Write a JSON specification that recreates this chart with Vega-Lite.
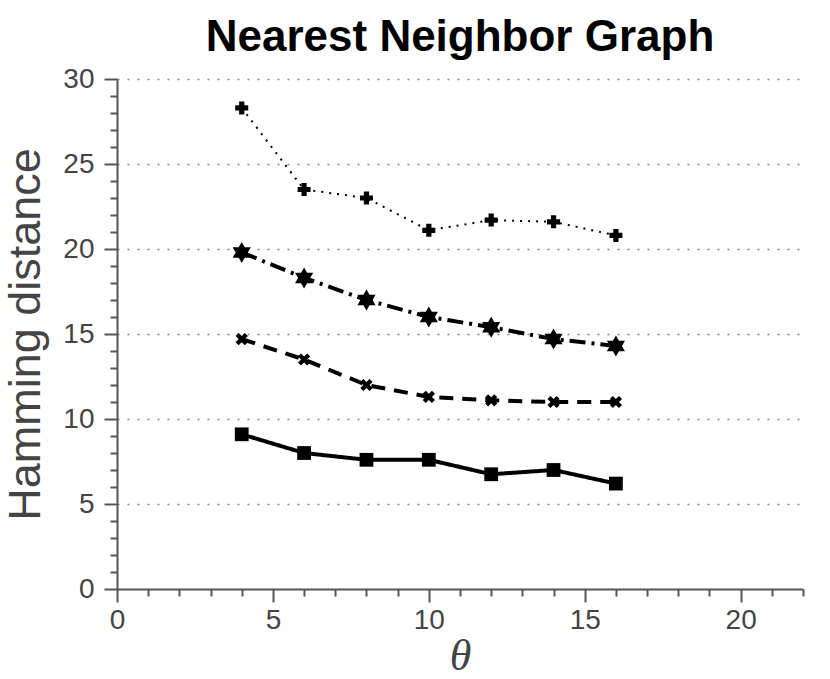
{
  "$schema": "https://vega.github.io/schema/vega-lite/v6.json",
  "width": 686,
  "height": 510,
  "autosize": {"type": "none"},
  "padding": {"left": 117, "top": 79, "right": 27, "bottom": 90},
  "background": "white",
  "config": {"view": {"stroke": null}},
  "title": {
    "text": "Nearest Neighbor Graph",
    "font": "Liberation Sans",
    "fontSize": 44,
    "fontWeight": "bold",
    "color": "black",
    "anchor": "middle",
    "offset": 5
  },
  "data": {
    "values": [
      {"series": "plus", "theta": 4, "dist": 28.3},
      {"series": "plus", "theta": 6, "dist": 23.5},
      {"series": "plus", "theta": 8, "dist": 23.0},
      {"series": "plus", "theta": 10, "dist": 21.1},
      {"series": "plus", "theta": 12, "dist": 21.7},
      {"series": "plus", "theta": 14, "dist": 21.6},
      {"series": "plus", "theta": 16, "dist": 20.8},
      {"series": "star", "theta": 4, "dist": 19.8},
      {"series": "star", "theta": 6, "dist": 18.3},
      {"series": "star", "theta": 8, "dist": 17.0},
      {"series": "star", "theta": 10, "dist": 16.0},
      {"series": "star", "theta": 12, "dist": 15.4},
      {"series": "star", "theta": 14, "dist": 14.7},
      {"series": "star", "theta": 16, "dist": 14.3},
      {"series": "x", "theta": 4, "dist": 14.7},
      {"series": "x", "theta": 6, "dist": 13.5},
      {"series": "x", "theta": 8, "dist": 12.0},
      {"series": "x", "theta": 10, "dist": 11.3},
      {"series": "x", "theta": 12, "dist": 11.1},
      {"series": "x", "theta": 14, "dist": 11.0},
      {"series": "x", "theta": 16, "dist": 11.0},
      {"series": "square", "theta": 4, "dist": 9.1},
      {"series": "square", "theta": 6, "dist": 8.0},
      {"series": "square", "theta": 8, "dist": 7.6},
      {"series": "square", "theta": 10, "dist": 7.6},
      {"series": "square", "theta": 12, "dist": 6.75},
      {"series": "square", "theta": 14, "dist": 7.0},
      {"series": "square", "theta": 16, "dist": 6.2}
    ]
  },
  "encoding": {
    "x": {
      "field": "theta",
      "type": "quantitative",
      "scale": {"domain": [0, 22], "nice": false},
      "axis": {
        "title": "θ",
        "titleFont": "Liberation Serif",
        "titleFontStyle": "italic",
        "titleFontWeight": "normal",
        "titleFontSize": 44,
        "titleColor": "#444444",
        "titlePadding": 0,
        "values": [0, 0.5, 1, 1.5, 2, 2.5, 3, 3.5, 4, 4.5, 5, 5.5, 6, 6.5, 7, 7.5, 8, 8.5, 9, 9.5, 10, 10.5, 11, 11.5, 12, 12.5, 13, 13.5, 14, 14.5, 15, 15.5, 16, 16.5, 17, 17.5, 18, 18.5, 19, 19.5, 20, 20.5, 21, 21.5, 22],
        "format": "d",
        "labelExpr": "datum.value % 5 === 0 ? datum.label : ''",
        "labelOverlap": false,
        "labelFlush": false,
        "labelFont": "Liberation Sans",
        "labelFontSize": 28,
        "labelColor": "#444444",
        "labelPadding": 4,
        "grid": false,
        "domainColor": "#555555",
        "domainWidth": 2,
        "tickColor": "#555555",
        "tickWidth": 2,
        "tickSize": {"condition": {"test": "datum.value % 5 === 0", "value": 13}, "value": 7}
      }
    },
    "y": {
      "field": "dist",
      "type": "quantitative",
      "scale": {"domain": [0, 30], "nice": false},
      "axis": {
        "title": "Hamming distance",
        "titleFont": "Liberation Sans",
        "titleFontWeight": "normal",
        "titleFontSize": 45,
        "titleColor": "#444444",
        "titlePadding": 14,
        "values": [0, 1, 2, 3, 4, 5, 6, 7, 8, 9, 10, 11, 12, 13, 14, 15, 16, 17, 18, 19, 20, 21, 22, 23, 24, 25, 26, 27, 28, 29, 30],
        "format": "d",
        "labelExpr": "datum.value % 5 === 0 ? datum.label : ''",
        "labelOverlap": false,
        "labelFlush": false,
        "labelFont": "Liberation Sans",
        "labelFontSize": 28,
        "labelColor": "#444444",
        "labelPadding": 10,
        "grid": true,
        "gridColor": "#888888",
        "gridDash": [2, 8],
        "gridWidth": 1.5,
        "gridOpacity": {"condition": {"test": "datum.value % 5 === 0 && datum.value > 0", "value": 1}, "value": 0},
        "domainColor": "#555555",
        "domainWidth": 2,
        "tickColor": "#555555",
        "tickWidth": 2,
        "tickSize": {"condition": {"test": "datum.value % 5 === 0", "value": 13}, "value": 7}
      }
    }
  },
  "layer": [
    {
      "mark": {"type": "line", "color": "black", "strokeCap": "butt"},
      "encoding": {
        "detail": {"field": "series"},
        "strokeDash": {
          "field": "series",
          "type": "nominal",
          "scale": {
            "domain": ["plus", "star", "x", "square"],
            "range": [[2, 6], [16, 6, 3, 6], [14, 9], [1, 0]]
          },
          "legend": null
        },
        "strokeWidth": {
          "condition": {"test": "datum.series === 'plus'", "value": 2},
          "value": 4
        }
      }
    },
    {
      "mark": {"type": "point", "filled": true, "color": "black", "opacity": 1},
      "encoding": {
        "shape": {
          "field": "series",
          "type": "nominal",
          "scale": {
            "domain": ["plus", "star", "x", "square"],
            "range": [
              "M-0.4,-1H0.4V-0.4H1V0.4H0.4V1H-0.4V0.4H-1V-0.4H-0.4Z",
              "M0,-1L0.866,0.5L-0.866,0.5Z M0,1L-0.866,-0.5L0.866,-0.5Z",
              "M-1,-0.5L-0.5,-1L0,-0.5L0.5,-1L1,-0.5L0.5,0L1,0.5L0.5,1L0,0.5L-0.5,1L-1,0.5L-0.5,0Z",
              "square"
            ]
          },
          "legend": null
        },
        "size": {
          "condition": [
            {"test": "datum.series === 'star'", "value": 440},
            {"test": "datum.series === 'square'", "value": 190},
            {"test": "datum.series === 'plus'", "value": 170}
          ],
          "value": 150
        }
      }
    }
  ]
}
